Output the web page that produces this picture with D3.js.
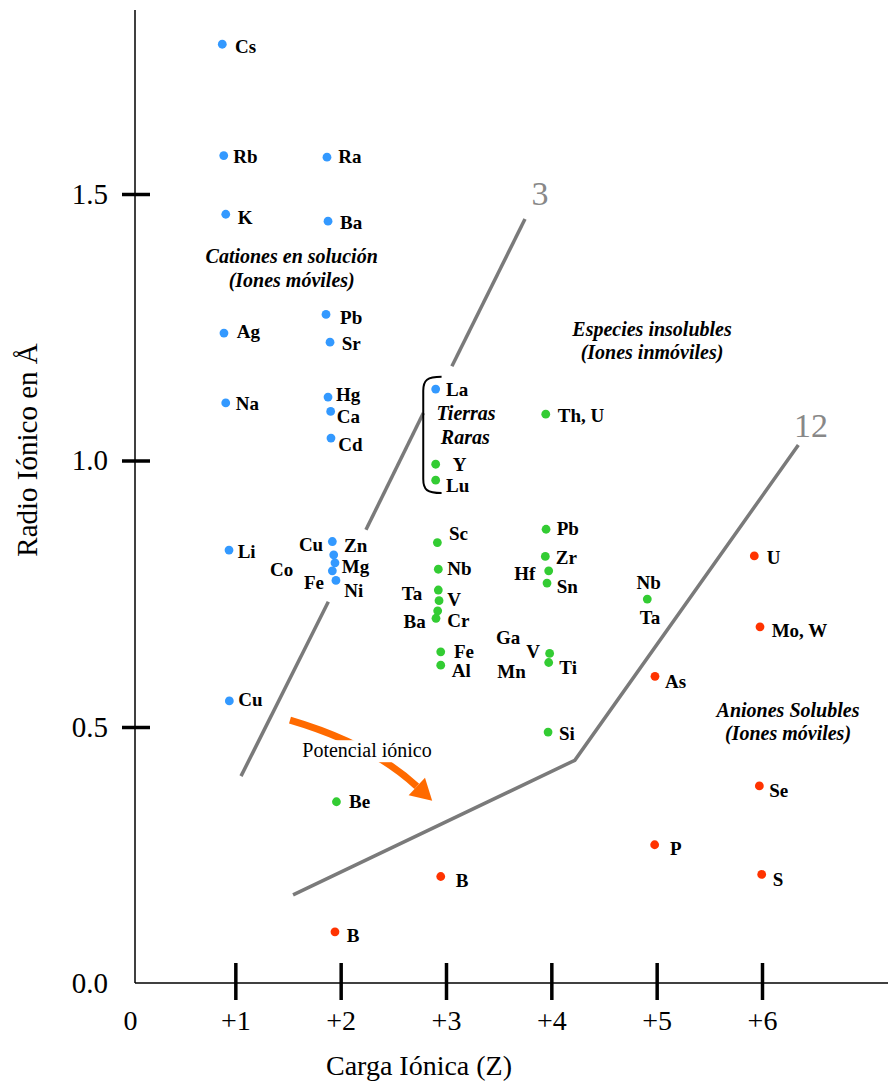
<!DOCTYPE html>
<html>
<head>
<meta charset="utf-8">
<script src="https://cdn.jsdelivr.net/npm/d3@7"></script>
<style>
    body { margin: 0; background: #fff; }
    svg { font-family: "Liberation Serif", "Times New Roman", serif; }
</style>
</head>
<body>
<div id="chart-wrapper"></div>
<script>
// puntos: [carga Z, radio en Å]
const cationes = [
    [0.876, 1.781], [0.890, 1.572], [0.909, 1.462], [0.892, 1.239], [0.909, 1.108],
    [0.940, 0.832], [0.943, 0.549], [1.870, 1.569], [1.880, 1.449], [1.861, 1.274],
    [1.899, 1.222], [1.880, 1.119], [1.905, 1.092], [1.908, 1.042], [1.921, 0.848],
    [1.934, 0.823], [1.946, 0.808], [1.921, 0.793], [1.955, 0.775], [2.902, 1.134]
];
const insolubles = [
    [1.960, 0.354], [2.918, 0.846], [2.927, 0.796], [2.927, 0.757], [2.934, 0.737],
    [2.921, 0.718], [2.905, 0.704], [2.950, 0.641], [2.950, 0.616], [2.902, 0.993],
    [2.902, 0.963], [3.947, 1.087], [3.950, 0.871], [3.943, 0.820], [3.975, 0.793],
    [3.959, 0.770], [3.984, 0.638], [3.975, 0.621], [3.969, 0.490], [4.911, 0.740]
];
const aniones = [
    [1.946, 0.100], [2.950, 0.208], [4.984, 0.595], [4.981, 0.270],
    [5.927, 0.821], [5.981, 0.688], [5.975, 0.385], [5.997, 0.212]
];

// etiquetas de los iones: [texto, Z, radio, anclaje]
const etiquetas = [
    ["Cs", 0.997, 1.764, "start"], ["Rb", 0.981, 1.559, "start"], ["K", 1.022, 1.444, "start"],
    ["Ra", 1.978, 1.559, "start"], ["Ba", 1.994, 1.434, "start"], ["Ag", 1.013, 1.230, "start"],
    ["Pb", 1.994, 1.257, "start"], ["Sr", 2.010, 1.207, "start"], ["Na", 1.004, 1.095, "start"],
    ["Hg", 1.956, 1.112, "start"], ["Ca", 1.962, 1.070, "start"], ["Cd", 1.978, 1.017, "start"],
    ["Li", 1.022, 0.818, "start"], ["Cu", 1.834, 0.831, "end"], ["Zn", 2.032, 0.828, "start"],
    ["Co", 1.550, 0.784, "end"], ["Mg", 2.010, 0.788, "start"], ["Fe", 1.842, 0.758, "end"],
    ["Ni", 2.035, 0.743, "start"], ["Cu", 1.028, 0.539, "start"],
    ["La", 3.000, 1.121, "start"], ["Y", 3.064, 0.980, "start"], ["Lu", 3.000, 0.941, "start"],
    ["Th, U", 4.061, 1.073, "start"], ["Sc", 3.029, 0.851, "start"], ["Nb", 3.012, 0.786, "start"],
    ["Ta", 2.775, 0.738, "end"], ["V", 3.012, 0.727, "start"], ["Ba", 2.807, 0.685, "end"],
    ["Cr", 3.012, 0.687, "start"], ["Fe", 3.076, 0.630, "start"], ["Al", 3.054, 0.594, "start"],
    ["Pb", 4.051, 0.860, "start"], ["Zr", 4.042, 0.806, "start"], ["Hf", 3.848, 0.776, "end"],
    ["Sn", 4.051, 0.752, "start"], ["Ga", 3.475, 0.656, "start"], ["V", 3.893, 0.630, "end"],
    ["Ti", 4.076, 0.599, "start"], ["Mn", 3.487, 0.592, "start"], ["Si", 4.073, 0.475, "start"],
    ["Nb", 4.923, 0.758, "middle"], ["Ta", 4.937, 0.693, "middle"],
    ["As", 5.079, 0.573, "start"], ["U", 6.045, 0.806, "start"], ["Mo, W", 6.092, 0.668, "start"],
    ["Se", 6.069, 0.364, "start"], ["P", 5.127, 0.250, "start"], ["S", 6.102, 0.189, "start"],
    ["Be", 2.079, 0.341, "start"], ["B", 3.092, 0.188, "start"], ["B", 2.057, 0.081, "start"]
];

// textos de las zonas: [texto, Z, radio]
const zonas = [
    ["Cationes en solución", 1.535, 1.371], ["(Iones móviles)", 1.535, 1.326],
    ["Especies insolubles", 4.956, 1.234], ["(Iones inmóviles)", 4.956, 1.191],
    ["Aniones Solubles", 6.247, 0.519], ["(Iones móviles)", 6.247, 0.475],
    ["Tierras", 3.190, 1.076], ["Raras", 3.183, 1.031]
];

// lineas de potencial iónico
const linea3 = [
    [[1.054, 0.404], [1.883, 0.735]],
    [[2.240, 0.870], [2.785, 1.089]],
    [[3.056, 1.177], [3.750, 1.453]]
];
const linea12 = [[1.548, 0.172], [4.223, 0.435], [6.345, 1.029]];
const rotulosLinea = [["3", 3.893, 1.479], ["12", 6.465, 1.044]];

const flecha = [[1.519, 0.513], [2.288, 0.467], [2.869, 0.356]];
const flechaTexto = ["Potencial iónico", 2.250, 0.441];
const corchete = [2.784, 2.958, 0.939, 1.157];

const yTicks = [0, 0.5, 1.0, 1.5];
const xTicks = [0, 1, 2, 3, 4, 5, 6];

class IonChart {
    constructor(){
        this.size = { "width": 888, "height": 1084, "axisX": 135, "axisY": 983, "top": 10 }
        this.x = d3.scaleLinear().domain([0, 6]).range([130, 762]);
        this.y = d3.scaleLinear().domain([0, 0.5, 1.5]).range([983, 727, 194]);
        this.mainChart;
    }

    drawChart(){
        this.mainChart = d3.select("#chart-wrapper")
            .append("svg")
            .attr("width", this.size.width)
            .attr("height", this.size.height)
            .attr("font-family", "'Liberation Serif', 'Times New Roman', serif");

        this.addAxes();
        this.addLines();
        this.addArrow();
        this.addPoints();
        this.addText();
    }

    addAxes(){
        let s = this.size;
        let g = this.mainChart.append("g");

        g.append("line")
            .attr("x1", s.axisX).attr("x2", s.axisX)
            .attr("y1", s.axisY).attr("y2", s.top)
            .attr("stroke", "#000").attr("stroke-width", 1.5);
        g.append("line")
            .attr("x1", s.axisX).attr("x2", s.width)
            .attr("y1", s.axisY).attr("y2", s.axisY)
            .attr("stroke", "#000").attr("stroke-width", 1.5);

        let yAxis = g.append("g")
            .attr("transform", `translate(${s.axisX},0)`)
            .call(d3.axisLeft(this.y).tickValues(yTicks)
                .tickFormat(d3.format(".1f")).tickSizeInner(13).tickPadding(14));
        yAxis.select(".domain").remove();
        yAxis.selectAll(".tick line")
            .attr("x1", 15).attr("stroke-width", 3.5)
            .filter(d => d === 0).remove();
        yAxis.selectAll("text")
            .attr("font-family", "'Liberation Serif', serif")
            .attr("font-size", 29).attr("fill", "#000");

        let xAxis = g.append("g")
            .attr("transform", `translate(0,${s.axisY})`)
            .call(d3.axisBottom(this.x).tickValues(xTicks)
                .tickFormat(d => d === 0 ? "0" : "+" + d).tickSizeInner(17).tickPadding(10));
        xAxis.select(".domain").remove();
        xAxis.selectAll(".tick line")
            .attr("y1", -20).attr("stroke-width", 3.5)
            .filter(d => d === 0).remove();
        xAxis.selectAll("text")
            .attr("font-family", "'Liberation Serif', serif")
            .attr("font-size", 28).attr("fill", "#000");

        g.append("text")
            .attr("x", 419).attr("y", 1075)
            .attr("text-anchor", "middle").attr("font-size", 28)
            .text("Carga Iónica (Z)");
        g.append("text")
            .attr("transform", "translate(37,450) rotate(-90)")
            .attr("text-anchor", "middle").attr("font-size", 29)
            .text("Radio Iónico en Å");
    }

    addLines(){
        let line = d3.line().x(d => this.x(d[0])).y(d => this.y(d[1]));
        let g = this.mainChart.append("g")
            .attr("fill", "none").attr("stroke", "#7a7a7a").attr("stroke-width", 3.5);

        g.selectAll("path.l3")
            .data(linea3)
            .join("path")
            .classed("l3", true)
            .attr("d", line);
        g.append("path").attr("d", line(linea12));

        this.mainChart.append("g")
            .selectAll("text")
            .data(rotulosLinea)
            .join("text")
            .attr("x", d => this.x(d[1]))
            .attr("y", d => this.y(d[2]))
            .attr("text-anchor", "middle")
            .attr("font-size", 34)
            .attr("fill", "#888")
            .text(d => d[0]);

        // corchete de tierras raras
        let [z0, z1, r0, r1] = corchete;
        let xl = this.x(z0), xr = this.x(z1), yt = this.y(r1), yb = this.y(r0);
        this.mainChart.append("path")
            .attr("d", `M${xr},${yt} C${xl + 4},${yt} ${xl},${yt + 3} ${xl},${yt + 14}`
                + ` L${xl},${yb - 14} C${xl},${yb - 3} ${xl + 4},${yb} ${xr},${yb}`)
            .attr("fill", "none").attr("stroke", "#000").attr("stroke-width", 2);
    }

    addArrow(){
        let p = flecha.map(d => [this.x(d[0]), this.y(d[1])]);
        let tip = p[2], c = p[1];
        let dx = tip[0] - c[0], dy = tip[1] - c[1];
        let len = Math.hypot(dx, dy);
        let ux = dx / len, uy = dy / len;
        let base = [tip[0] - 21 * ux, tip[1] - 21 * uy];
        let g = this.mainChart.append("g");

        g.append("path")
            .attr("d", `M${p[0][0]},${p[0][1]} Q${c[0]},${c[1]} ${base[0]},${base[1]}`)
            .attr("fill", "none").attr("stroke", "#ff6a00").attr("stroke-width", 7);
        g.append("path")
            .attr("d", `M${tip[0]},${tip[1]} L${base[0] - 12 * uy},${base[1] + 12 * ux}`
                + ` L${base[0] + 12 * uy},${base[1] - 12 * ux} Z`)
            .attr("fill", "#ff6a00");

        let t = g.append("text")
            .attr("x", this.x(flechaTexto[1]))
            .attr("y", this.y(flechaTexto[2]))
            .attr("text-anchor", "middle")
            .attr("font-size", 20)
            .text(flechaTexto[0]);
        let bb = t.node().getBBox();
        g.insert("rect", "text")
            .attr("x", bb.x - 3).attr("y", bb.y + 1)
            .attr("width", bb.width + 6).attr("height", bb.height)
            .attr("fill", "#fff");
    }

    addPoints(){
        let groups = [[cationes, "#3399ff"], [insolubles, "#33cc33"], [aniones, "#ff3300"]];
        groups.forEach(([data, color]) => {
            this.mainChart.append("g")
                .selectAll("circle")
                .data(data)
                .join("circle")
                .attr("cx", d => this.x(d[0]))
                .attr("cy", d => this.y(d[1]))
                .attr("r", 4.4)
                .attr("fill", color);
        });
    }

    addText(){
        this.mainChart.append("g")
            .selectAll("text")
            .data(etiquetas)
            .join("text")
            .attr("x", d => this.x(d[1]))
            .attr("y", d => this.y(d[2]))
            .attr("text-anchor", d => d[3])
            .attr("font-size", 19)
            .attr("font-weight", "bold")
            .text(d => d[0]);

        this.mainChart.append("g")
            .selectAll("text")
            .data(zonas)
            .join("text")
            .attr("x", d => this.x(d[1]))
            .attr("y", d => this.y(d[2]))
            .attr("text-anchor", "middle")
            .attr("font-size", 20)
            .attr("font-weight", "bold")
            .attr("font-style", "italic")
            .text(d => d[0]);
    }
}

let chart = new IonChart();
chart.drawChart();
</script>
</body>
</html>
